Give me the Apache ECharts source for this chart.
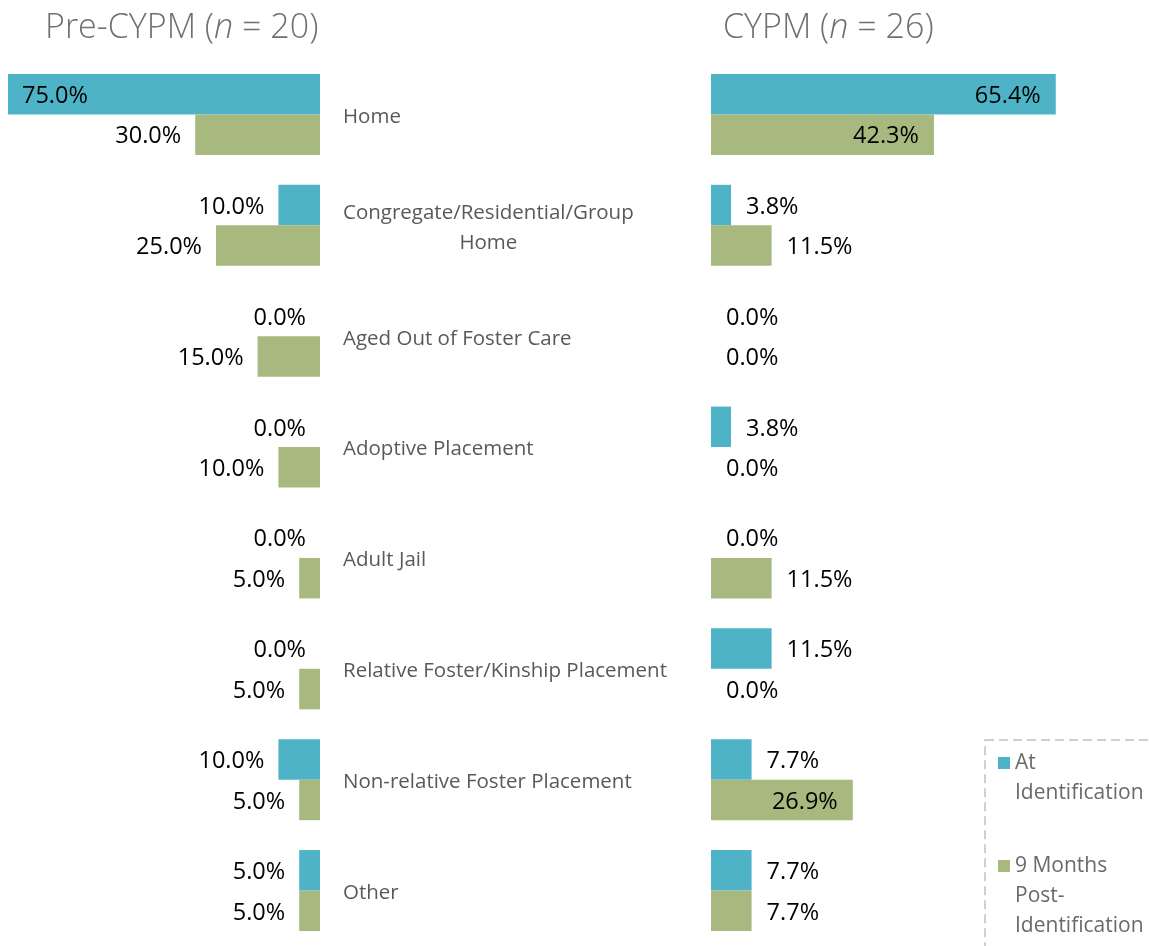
<!DOCTYPE html>
<html>
<head>
<meta charset="utf-8">
<script src="https://cdn.jsdelivr.net/npm/echarts@6/dist/echarts.min.js"></script>
<style>html,body{margin:0;padding:0;background:#fff}#c{width:1149px;height:946px}</style>
</head>
<body>
<div id="c"></div>
<script>
var categories = ['Home', 'Congregate/Residential/Group Home', 'Aged Out of Foster Care', 'Adoptive Placement', 'Adult Jail', 'Relative Foster/Kinship Placement', 'Non-relative Foster Placement', 'Other'];
var seriesNames = ['At Identification', '9 Months Post-Identification'];
var preAt = [75.0, 10.0, 0.0, 0.0, 0.0, 0.0, 10.0, 5.0];
var pre9 = [30.0, 25.0, 15.0, 10.0, 5.0, 5.0, 5.0, 5.0];
var cypmAt = [65.4, 3.8, 0.0, 3.8, 0.0, 11.5, 7.7, 7.7];
var cypm9 = [42.3, 11.5, 0.0, 0.0, 11.5, 0.0, 26.9, 7.7];

var BLUE = '#4fb3c8', GREEN = '#a8b980';
var FONT = '"Open Sans", "DejaVu Sans", sans-serif';
var labelBase = { show: true, color: '#000', fontSize: 23.5, fontFamily: FONT, offset: [0, 2], formatter: function (p) { return p.value.toFixed(1) + '%'; } };

function leftData(arr) {
  return arr.map(function (v) {
    return v >= 50 ? { value: v, label: { position: 'insideLeft', distance: 14 } } : { value: v };
  });
}
function rightData(arr) {
  return arr.map(function (v) {
    return v >= 20 ? { value: v, label: { position: 'insideRight', distance: 15 } } : { value: v };
  });
}

var titleRich = {
  a: { fontSize: 34, fontFamily: FONT, fontWeight: 300, color: '#707070' },
  i: { fontSize: 34, fontFamily: FONT, fontWeight: 300, fontStyle: 'italic', color: '#707070' }
};

var chart = echarts.init(document.getElementById('c'));
chart.setOption({
  backgroundColor: '#fff',
  animation: false,
  title: [
    { left: 45, top: 11, padding: 0, text: '{a|Pre-CYPM (}{i|n}{a| = 20)}', textStyle: { rich: titleRich } },
    { left: 723, top: 11, padding: 0, text: '{a|CYPM (}{i|n}{a| = 26)}', textStyle: { rich: titleRich } }
  ],
  legend: {
    orient: 'vertical', left: 985, top: 740, height: 400,
    padding: [-22, 20, 20, 13],
    itemWidth: 12, itemHeight: 12, itemGap: -17,
    icon: 'rect',
    borderColor: '#c0c0c0', borderWidth: 1.5, borderType: [9, 5],
    textStyle: { fontSize: 21, fontFamily: FONT, color: '#6a6a6a', lineHeight: 30 },
    formatter: function (n) { return n === seriesNames[0] ? ' \nAt\nIdentification' : ' \n \n9 Months\nPost-\nIdentification'; },
    data: [seriesNames[0], seriesNames[1]]
  },
  grid: [
    { left: 8, width: 312, top: 59, height: 891 },
    { left: 711, width: 369, top: 59, height: 891 }
  ],
  xAxis: [
    { gridIndex: 0, type: 'value', min: 0, max: 75, inverse: true, show: false, splitLine: { show: false } },
    { gridIndex: 1, type: 'value', min: 0, max: 70, show: false, splitLine: { show: false } }
  ],
  yAxis: [
    { gridIndex: 0, type: 'category', data: categories, inverse: true, position: 'right',
      axisLine: { show: false }, axisTick: { show: false },
      axisLabel: { margin: 23, align: 'left', color: '#595959', fontSize: 20.5, fontFamily: FONT, padding: [5, 0, 0, 0],
        formatter: function (v) {
          if (v === categories[1]) { return '{a|Congregate/Residential/Group}\n{b|Home}'; }
          return v;
        },
        rich: {
          a: { color: '#595959', fontSize: 20.5, fontFamily: FONT, lineHeight: 30 },
          b: { color: '#595959', fontSize: 20.5, fontFamily: FONT, lineHeight: 30, align: 'center' }
        }
      } },
    { gridIndex: 1, type: 'category', data: categories, inverse: true, show: false }
  ],
  series: [
    { name: seriesNames[0], type: 'bar', xAxisIndex: 0, yAxisIndex: 0, barWidth: 40.5, barGap: '0%', itemStyle: { color: BLUE },
      label: Object.assign({}, labelBase, { position: 'left', distance: 14 }), data: leftData(preAt) },
    { name: seriesNames[1], type: 'bar', xAxisIndex: 0, yAxisIndex: 0, barWidth: 40.5, barGap: '0%', itemStyle: { color: GREEN },
      label: Object.assign({}, labelBase, { position: 'left', distance: 14 }), data: leftData(pre9) },
    { name: seriesNames[0], type: 'bar', xAxisIndex: 1, yAxisIndex: 1, barWidth: 40.5, barGap: '0%', itemStyle: { color: BLUE },
      label: Object.assign({}, labelBase, { position: 'right', distance: 15 }), data: rightData(cypmAt) },
    { name: seriesNames[1], type: 'bar', xAxisIndex: 1, yAxisIndex: 1, barWidth: 40.5, barGap: '0%', itemStyle: { color: GREEN },
      label: Object.assign({}, labelBase, { position: 'right', distance: 15 }), data: rightData(cypm9) }
  ]
});
</script>
</body>
</html>
